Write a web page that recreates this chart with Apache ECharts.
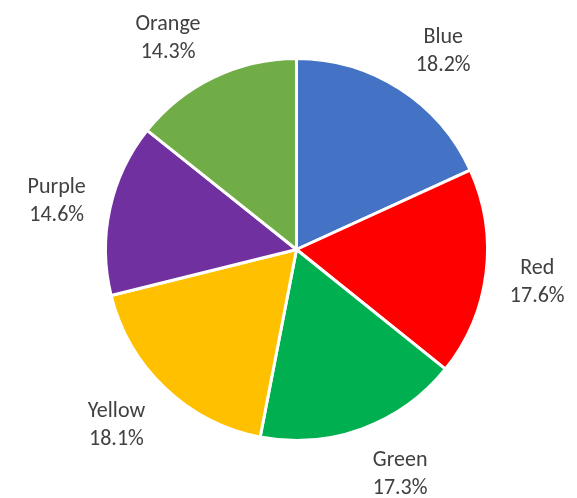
<!DOCTYPE html>
<html>
<head>
<meta charset="utf-8">
<script src="https://cdn.jsdelivr.net/npm/echarts@6/dist/echarts.min.js"></script>
<style>
  html, body { margin: 0; padding: 0; background: #fff; }
  #chart { width: 577px; height: 498px; }
</style>
</head>
<body>
<div id="chart"></div>
<script>
// 数据
var categories = ['Blue', 'Red', 'Green', 'Yellow', 'Purple', 'Orange'];
var values = [18.2, 17.6, 17.3, 18.1, 14.6, 14.3];
var colors = ['#4472C4', '#FF0000', '#00B050', '#FFC000', '#7030A0', '#70AD47'];

var CX = 296.5, CY = 249.5, R = 191;
var LABEL_DIST = 214; // 标签最近点到圆心的距离

var chart = echarts.init(document.getElementById('chart'), null, { renderer: 'canvas' });

// 每个扇区的中间角（从12点方向顺时针，弧度）
var total = values.reduce(function(a, b) { return a + b; }, 0);
var midAngles = [];
(function() {
  var acc = 0;
  values.forEach(function(v) {
    midAngles.push((acc + v / 2) / total * Math.PI * 2);
    acc += v;
  });
})();

function clamp(v) { return Math.max(-1, Math.min(1, v)); }

// 仿 Excel "数据标签外" 布局：标签框的最近角贴在中间角方向上
function layoutLabel(params) {
  var a = midAngles[params.dataIndex];
  var s = Math.sin(a), c = Math.cos(a);
  var w = params.labelRect.width, h = params.labelRect.height;
  var dx = LABEL_DIST + 8 * Math.abs(c);
  var x = CX + dx * s + (w / 2) * clamp(3 * s);
  var y = CY - LABEL_DIST * c - (h / 2 * 0.75) * clamp(1.2 * c) + 3;
  return { x: x, y: y, align: 'center', verticalAlign: 'middle' };
}

var option = {
  animation: false,
  series: [{
    type: 'pie',
    center: [CX, CY],
    radius: [0, R],
    startAngle: 90,
    clockwise: true,
    data: categories.map(function(name, i) {
      return { name: name, value: values[i], itemStyle: { color: colors[i] } };
    }),
    itemStyle: { borderColor: '#fff', borderWidth: 3 },
    label: {
      show: true,
      position: 'outside',
      overflow: 'none',
      formatter: function(p) { return p.name + '\n' + p.value.toFixed(1) + '%'; },
      fontFamily: 'Carlito, Lato, sans-serif',
      fontSize: 22,
      lineHeight: 28,
      color: '#404040',
      align: 'center'
    },
    labelLine: { show: false },
    labelLayout: layoutLabel
  }]
};

chart.setOption(option);
</script>
</body>
</html>
